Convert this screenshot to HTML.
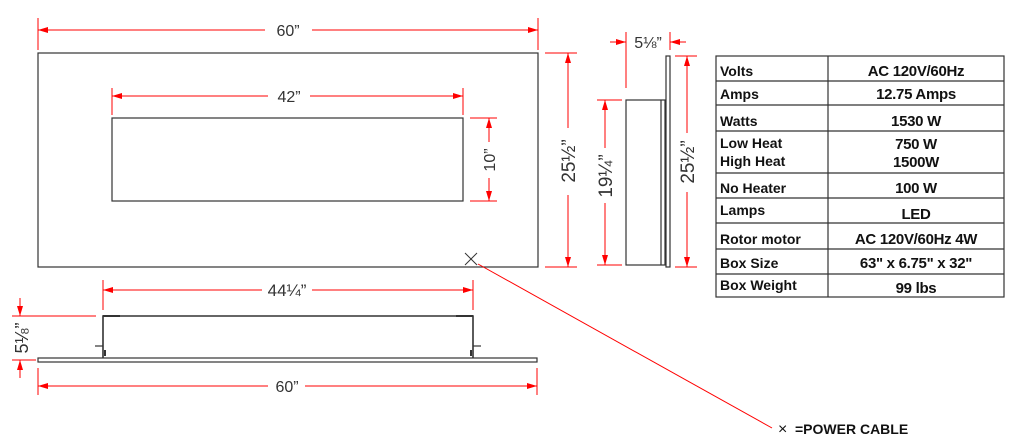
<!DOCTYPE html>
<html><head><meta charset="utf-8"><style>
html,body{margin:0;padding:0;background:#fff;}
svg{display:block;}
text{font-family:"Liberation Sans",Arial,sans-serif;}
</style></head><body>
<svg width="1024" height="446" viewBox="0 0 1024 446" xmlns="http://www.w3.org/2000/svg">
<defs>
<marker id="a" markerWidth="10" markerHeight="6" refX="10" refY="3" orient="auto" markerUnits="userSpaceOnUse"><path d="M0,0 L10,3 L0,6 z" fill="#f00"/></marker>
<marker id="b" markerWidth="10" markerHeight="6" refX="0" refY="3" orient="auto" markerUnits="userSpaceOnUse"><path d="M10,0 L0,3 L10,6 z" fill="#f00"/></marker>
</defs>
<g fill="none" stroke="#333" stroke-width="1.2">
<rect x="38" y="53" width="500" height="214"/>
<rect x="112" y="118" width="351" height="83"/>
<rect x="666" y="56" width="4" height="211"/>
<rect x="626" y="100" width="39" height="165"/>
<line x1="661" y1="100" x2="661" y2="265"/>
<rect x="38" y="358" width="499" height="4"/>
<path d="M103,358 V316 H473 V358" stroke-width="1.6"/>
<line x1="103" y1="316" x2="120" y2="316" stroke-width="2"/>
<line x1="456" y1="316" x2="473" y2="316" stroke-width="2"/>
<line x1="95" y1="346" x2="103" y2="346"/>
<line x1="473" y1="346" x2="481" y2="346"/>
<line x1="105" y1="350" x2="105" y2="356" stroke-width="2"/>
<line x1="471" y1="350" x2="471" y2="356" stroke-width="2"/>
</g>
<g stroke="#f00" stroke-width="1" fill="none">
<line x1="38" y1="18" x2="38" y2="50"/><line x1="538" y1="18" x2="538" y2="50"/>
<line x1="38" y1="30" x2="265" y2="30" marker-start="url(#b)"/><line x1="312" y1="30" x2="538" y2="30" marker-end="url(#a)"/>
<line x1="112" y1="88" x2="112" y2="115"/><line x1="463" y1="88" x2="463" y2="115"/>
<line x1="112" y1="96" x2="268" y2="96" marker-start="url(#b)"/><line x1="310" y1="96" x2="463" y2="96" marker-end="url(#a)"/>
<line x1="470" y1="118" x2="497" y2="118"/><line x1="470" y1="201" x2="497" y2="201"/>
<line x1="489" y1="118" x2="489" y2="142" marker-start="url(#b)"/><line x1="489" y1="178" x2="489" y2="201" marker-end="url(#a)"/>
<line x1="545" y1="53" x2="577" y2="53"/><line x1="545" y1="267" x2="577" y2="267"/>
<line x1="568" y1="53" x2="568" y2="128" marker-start="url(#b)"/><line x1="568" y1="195" x2="568" y2="267" marker-end="url(#a)"/>
<line x1="465" y1="253" x2="477" y2="265" stroke="#333"/><line x1="477" y1="253" x2="465" y2="265" stroke="#333"/>
<line x1="478" y1="264" x2="772" y2="428"/>
<line x1="626" y1="32" x2="626" y2="88"/><line x1="670" y1="32" x2="670" y2="50"/>
<line x1="610" y1="42" x2="626" y2="42" marker-end="url(#a)"/><line x1="686" y1="42" x2="670" y2="42" marker-end="url(#a)"/>
<line x1="597" y1="100" x2="622" y2="100"/><line x1="597" y1="265" x2="622" y2="265"/>
<line x1="605" y1="100" x2="605" y2="148" marker-start="url(#b)"/><line x1="605" y1="203" x2="605" y2="265" marker-end="url(#a)"/>
<line x1="675" y1="56" x2="697" y2="56"/><line x1="675" y1="267" x2="697" y2="267"/>
<line x1="687" y1="56" x2="687" y2="133" marker-start="url(#b)"/><line x1="687" y1="192" x2="687" y2="267" marker-end="url(#a)"/>
<line x1="103" y1="280" x2="103" y2="310"/><line x1="473" y1="280" x2="473" y2="310"/>
<line x1="103" y1="290" x2="262" y2="290" marker-start="url(#b)"/><line x1="312" y1="290" x2="473" y2="290" marker-end="url(#a)"/>
<line x1="38" y1="368" x2="38" y2="395"/><line x1="537" y1="368" x2="537" y2="395"/>
<line x1="38" y1="386" x2="268" y2="386" marker-start="url(#b)"/><line x1="305" y1="386" x2="537" y2="386" marker-end="url(#a)"/>
<line x1="12" y1="316" x2="96" y2="316"/><line x1="12" y1="360" x2="36" y2="360"/>
<line x1="20" y1="298" x2="20" y2="316" marker-end="url(#a)"/><line x1="20" y1="378" x2="20" y2="360" marker-end="url(#a)"/>
</g>
<g fill="#333" font-size="16">
<text x="288" y="36" text-anchor="middle">60”</text>
<text x="289" y="102" text-anchor="middle">42”</text>
<text x="287" y="296" text-anchor="middle" font-size="17">44¼”</text>
<text x="287" y="392" text-anchor="middle">60”</text>
<text x="648" y="48" text-anchor="middle">5⅛”</text>
<text transform="translate(495,160) rotate(-90)" text-anchor="middle">10”</text>
<text transform="translate(575,161) rotate(-90)" text-anchor="middle" font-size="19">25½”</text>
<text transform="translate(612,176) rotate(-90)" text-anchor="middle" font-size="19">19¼”</text>
<text transform="translate(694,162) rotate(-90)" text-anchor="middle" font-size="19">25½”</text>
<text transform="translate(28,338) rotate(-90)" text-anchor="middle" font-size="18">5⅛”</text>
</g>
<text x="778" y="434" font-size="16" fill="#111">×</text>
<text x="795" y="434" font-size="14" font-weight="bold" fill="#111">=POWER CABLE</text>
<g stroke="#333" stroke-width="1.2" fill="none">
<rect x="716" y="56" width="288" height="241"/>
<line x1="828" y1="56" x2="828" y2="297"/>
<line x1="716" y1="81" x2="1004" y2="81"/>
<line x1="716" y1="105" x2="1004" y2="105"/>
<line x1="716" y1="131" x2="1004" y2="131"/>
<line x1="716" y1="173" x2="1004" y2="173"/>
<line x1="716" y1="198" x2="1004" y2="198"/>
<line x1="716" y1="223" x2="1004" y2="223"/>
<line x1="716" y1="249" x2="1004" y2="249"/>
<line x1="716" y1="274" x2="1004" y2="274"/>
</g>
<g font-size="14" font-weight="bold" fill="#111">
<text x="720" y="76">Volts</text>
<text x="720" y="99">Amps</text>
<text x="720" y="126">Watts</text>
<text x="720" y="148">Low Heat</text>
<text x="720" y="166">High Heat</text>
<text x="720" y="193">No Heater</text>
<text x="720" y="215">Lamps</text>
<text x="720" y="244">Rotor motor</text>
<text x="720" y="268">Box  Size</text>
<text x="720" y="290">Box  Weight</text>
</g>
<g font-size="15" font-weight="bold" fill="#111" text-anchor="middle" letter-spacing="-0.3">
<text x="916" y="76">AC 120V/60Hz</text>
<text x="916" y="99">12.75 Amps</text>
<text x="916" y="126">1530 W</text>
<text x="916" y="149">750 W</text>
<text x="916" y="167">1500W</text>
<text x="916" y="193">100 W</text>
<text x="916" y="219">LED</text>
<text x="916" y="244">AC 120V/60Hz 4W</text>
<text x="916" y="268">63" x 6.75" x 32"</text>
<text x="916" y="293">99 lbs</text>
</g>
</svg>
</body></html>
